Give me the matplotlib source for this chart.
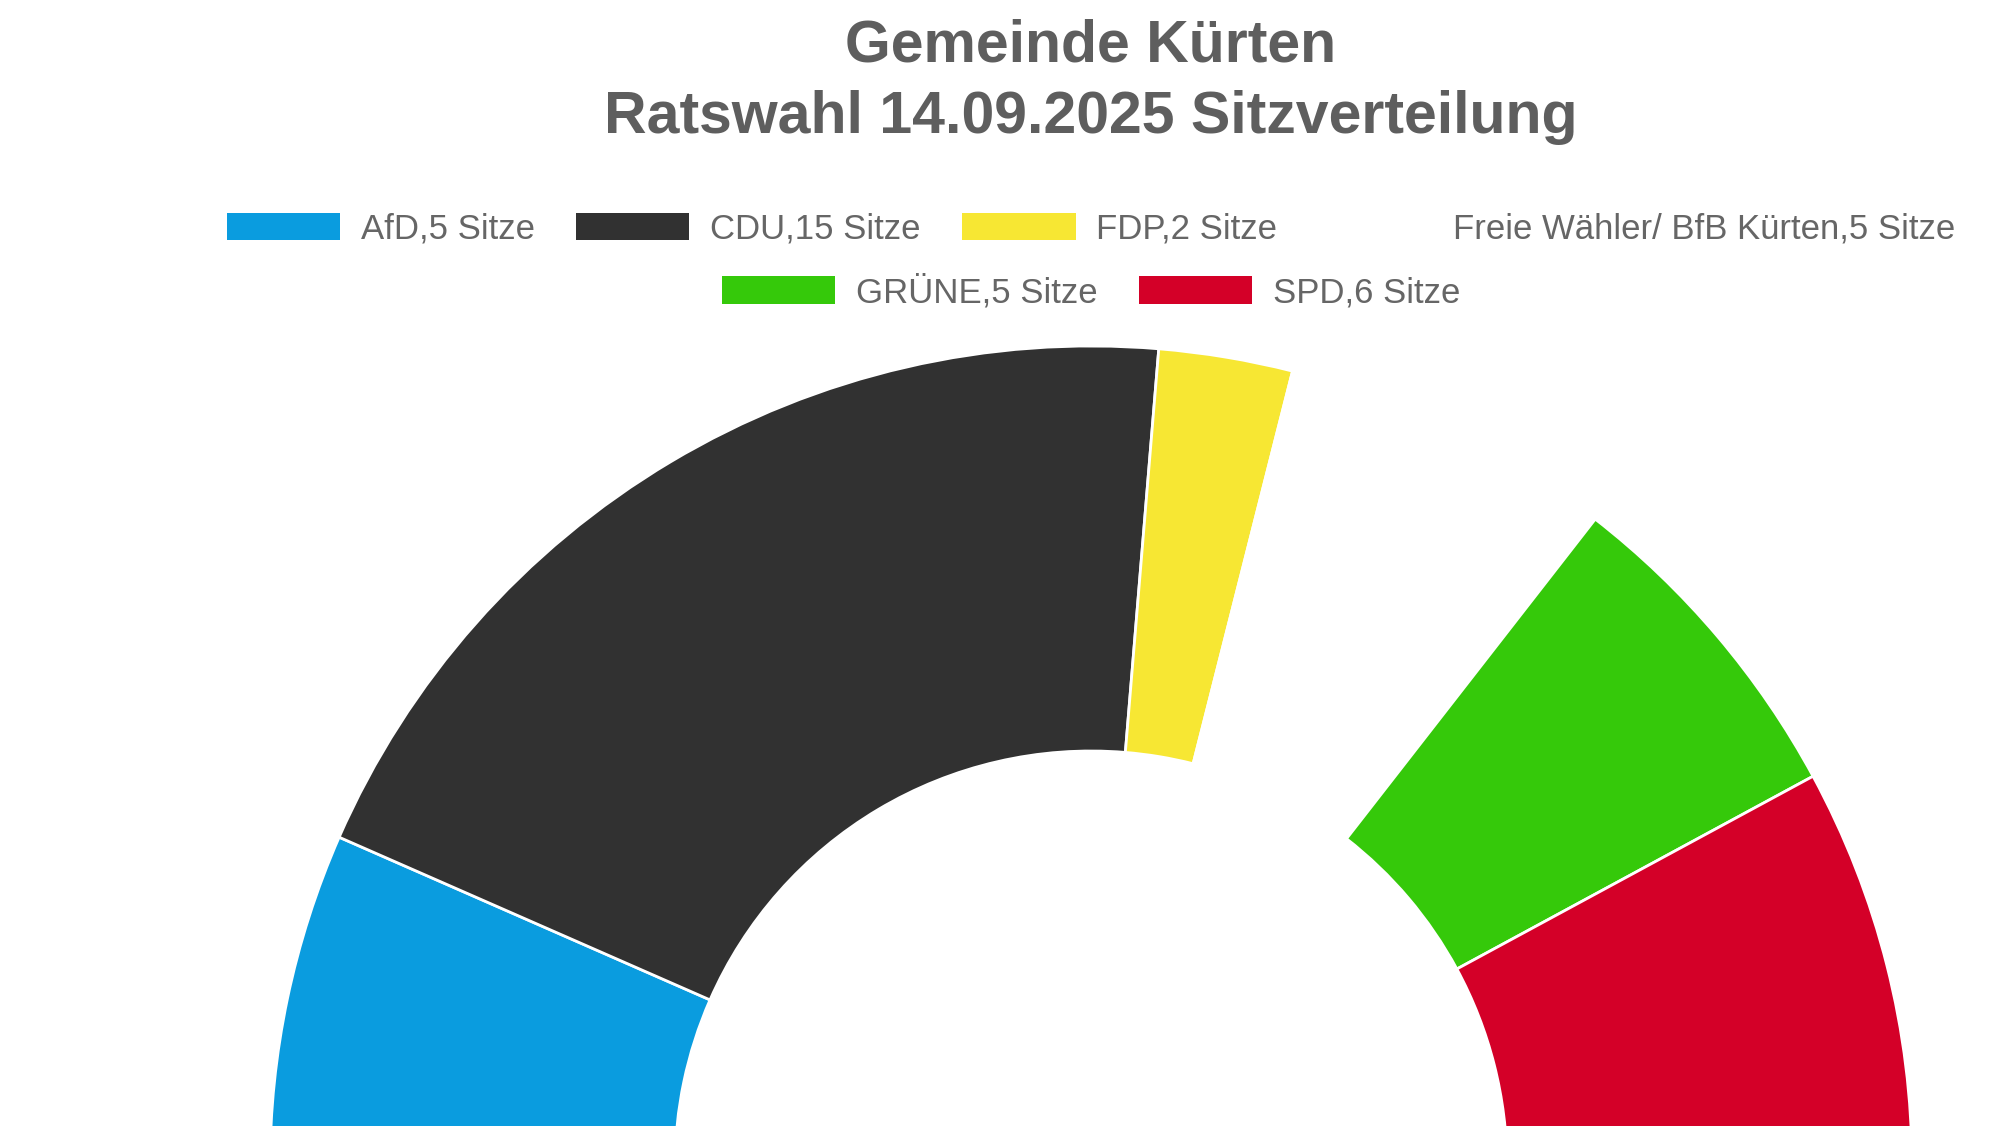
import matplotlib
matplotlib.use("Agg")
import matplotlib.pyplot as plt

# ---- data ----
parties = ["AfD", "CDU", "FDP", "Freie Wähler/ BfB Kürten", "GRÜNE", "SPD"]
seats = [5, 15, 2, 5, 5, 6]
colors = ["#0a9cdf", "#313131", "#f7e733", "#ffffff", "#35c90a", "#d40028"]
title_lines = ["Gemeinde Kürten", "Ratswahl 14.09.2025 Sitzverteilung"]
labels = [f"{p},{s} Sitze" for p, s in zip(parties, seats)]

plt.rcParams["font.family"] = ["Liberation Sans", "DejaVu Sans"]

W, H = 2000, 1126
fig = plt.figure(figsize=(W / 100, H / 100), dpi=100)
ax = fig.add_axes([0, 0, 1, 1])

total = sum(seats)
cx, cy = 1091, -41
R_out, R_in = 821, 416
wedges, _ = ax.pie(
    seats + [total],
    colors=colors + ["none"],
    startangle=180,
    counterclock=False,
    radius=R_out,
    center=(cx, cy),
    wedgeprops=dict(width=R_out - R_in, edgecolor="white", linewidth=2),
)
wedges[-1].set_visible(False)
ax.set_xlim(0, W)
ax.set_ylim(0, H)
ax.set_aspect("equal")
ax.axis("off")

tcol = "#5e5e5e"
fig.text(1091 / W, 1 - 62 / H, title_lines[0], ha="center", va="baseline",
         fontsize=42.5, fontweight="bold", color=tcol)
fig.text(1091 / W, 1 - 133 / H, title_lines[1], ha="center", va="baseline",
         fontsize=42.5, fontweight="bold", color=tcol)

fs = 25
common = dict(frameon=False, fontsize=fs, handlelength=3.26, handleheight=0.84,
              handletextpad=0.6, columnspacing=1.2, borderpad=0, borderaxespad=0,
              loc="center", labelcolor="#666666")
leg1 = fig.legend(wedges[:4], labels[:4], ncol=4,
                  bbox_to_anchor=(1091 / W, 1 - 229 / H), **common)
leg2 = fig.legend(wedges[4:6], labels[4:6], ncol=2,
                  bbox_to_anchor=(1091 / W, 1 - 292 / H), **common)
for leg in (leg1, leg2):
    for h in leg.legend_handles:
        h.set_edgecolor("none")

fig.savefig("out.png", dpi=100, facecolor="white")
